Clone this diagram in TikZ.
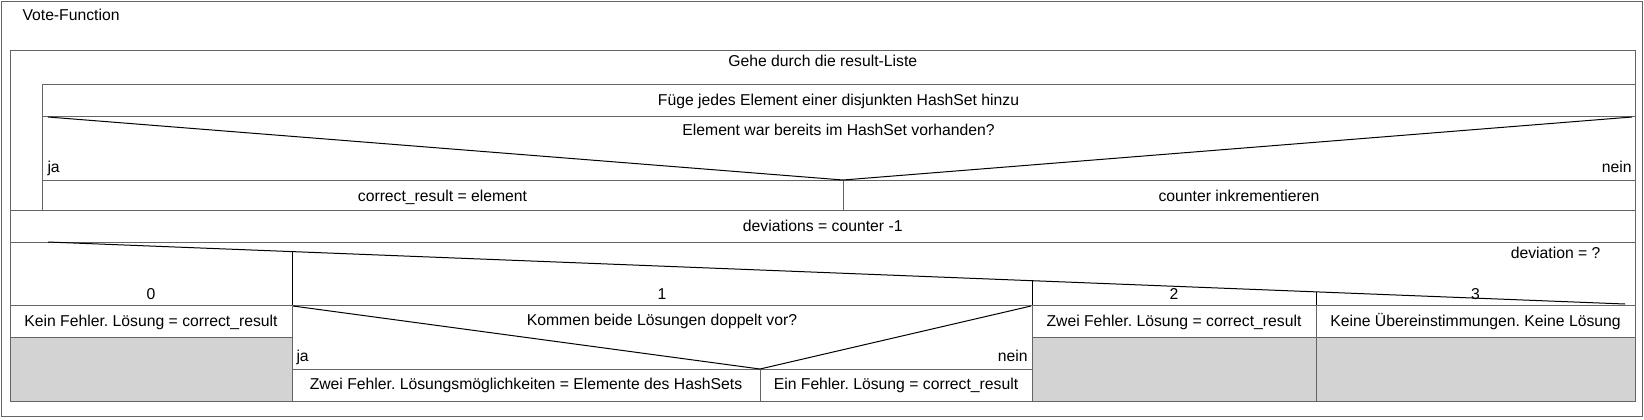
\documentclass[tikz,border=0pt]{standalone}
\usepackage{fontspec}
\setmainfont{Liberation Sans}
\usepackage{xcolor}
\usepackage{tikz}
\definecolor{framegray}{RGB}{100,100,100}
\definecolor{emptygray}{RGB}{211,211,211}
\frenchspacing

\begin{document}
\begin{tikzpicture}[x=0.75pt,y=-0.75pt,line width=0.75pt,font=\fontsize{11.8}{14}\selectfont]

		\tikzstyle{frame}=[draw=framegray]
		\tikzstyle{diag}=[draw=black]
		\tikzstyle{empty}=[frame,fill=emptygray]
		\tikzstyle{txt}=[inner sep=0pt,text=black,anchor=base]

		\useasboundingbox (0,0) rectangle (1644,419);

		% frames and rows
		\draw[frame] (1.5,1.5) rectangle (1642,416);
		\draw[frame] (10.5,50) rectangle (1635,401);
		\draw[frame] (42,210) -- (42,84) -- (1635,84)
		             (42,116) -- (1635,116)
		             (42,180) -- (1635,180)
		             (843,180) -- (843,210)
		             (10.5,210) -- (1635,210)
		             (10.5,242) -- (1635,242)
		             (10.5,305) -- (1635,305)
		             (10.5,337) -- (292,337)
		             (1032,337) -- (1635,337)
		             (292,369) -- (1032,369)
		             (760,369) -- (760,401);
		\draw[empty] (10.5,337) rectangle (292,401);
		\draw[empty] (1032,337) rectangle (1316,401);
		\draw[empty] (1316,337) rectangle (1635,401);

		% corners of the diagonals
		\coordinate (ifTL)   at (48,117);
		\coordinate (ifMid)  at (843,180);
		\coordinate (ifTR)   at (1632,117);
		\coordinate (caseTL) at (48,242);
		\coordinate (caseBR) at (1625,304);
		\coordinate (subTL)  at (293,306);
		\coordinate (subMid) at (760,369);
		\coordinate (subTR)  at (1031,306);
		\coordinate (col1)   at (292,251.6);
		\coordinate (col2)   at (1032,280.7);
		\coordinate (col3)   at (1316,291.8);

		\draw[diag] (ifTL) -- (ifMid) -- (ifTR);
		\draw[diag] (caseTL) -- (caseBR);
		\draw[diag] (subTL) -- (subMid) -- (subTR);
		\draw[diag] (col1) -- (292,305);
		\draw[diag] (col2) -- (1032,305);
		\draw[diag] (col3) -- (1316,305);
		\draw[frame] (292,305) -- (292,401);
		\draw[frame] (1032,305) -- (1032,401);
		\draw[frame] (1316,305) -- (1316,401);

		% texts
		\node[txt,anchor=base west] (title) at (22,20) {Vote-Function};
		\node[txt] (loop)    at (822.75,66.5) {Gehe durch die result-Liste};
		\node[txt] (add)     at (838.5,105)   {Füge jedes Element einer disjunkten HashSet hinzu};
		\node[txt] (cond)    at (838.5,135.7) {Element war bereits im HashSet vorhanden?};
		\node[txt,anchor=base west] (yes) at (47,172)   {ja};
		\node[txt,anchor=base east] (no)  at (1632,172) {nein};
		\node[txt] (setres)  at (442.5,201)   {correct\_result = element};
		\node[txt] (incr)    at (1239,201)    {counter inkrementieren};
		\node[txt] (devs)    at (822.75,231)  {deviations = counter -1};
		\node[txt,anchor=base east] (sel) at (1601,258.3) {deviation = ?};
		\node[txt] (case0)   at (151,299)     {0};
		\node[txt] (case1)   at (662,299)     {1};
		\node[txt] (case2)   at (1174,299)    {2};
		\node[txt] (case3)   at (1475.5,299)  {3};
		\node[txt] (none)    at (151,326)     {Kein Fehler. Lösung = correct\_result};
		\node[txt] (both)    at (662,325)     {Kommen beide Lösungen doppelt vor?};
		\node[txt,anchor=base west] (subyes) at (296,361)  {ja};
		\node[txt,anchor=base east] (subno)  at (1028,361) {nein};
		\node[txt] (twoset)  at (526,389.3)   {Zwei Fehler. Lösungsmöglichkeiten = Elemente des HashSets};
		\node[txt] (one)     at (896,389.3)   {Ein Fehler. Lösung = correct\_result};
		\node[txt] (two)     at (1174,326)    {Zwei Fehler. Lösung = correct\_result};
		\node[txt] (nomatch) at (1475.5,326)  {Keine Übereinstimmungen. Keine Lösung};

	\end{tikzpicture}
\end{document}
